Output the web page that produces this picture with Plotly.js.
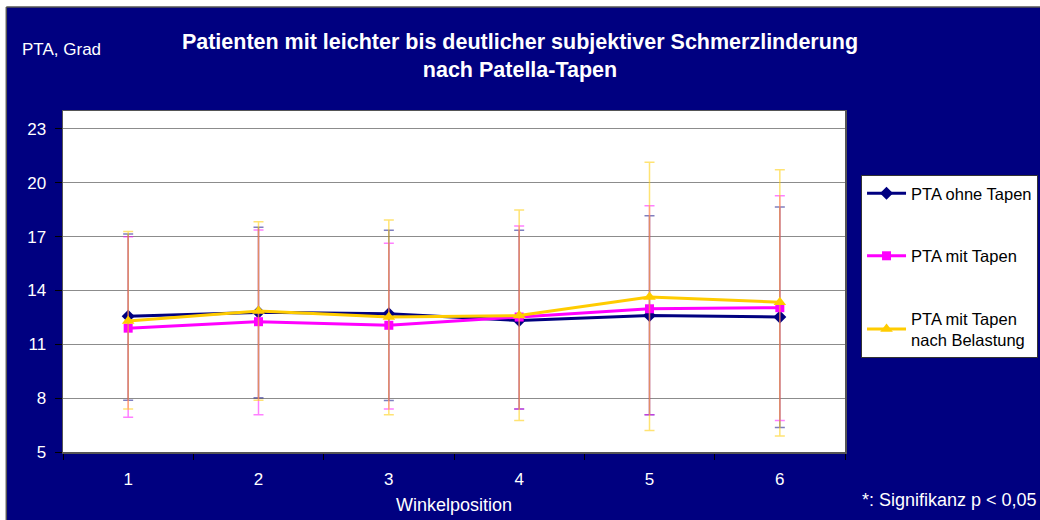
<!DOCTYPE html>
<html>
<head>
<meta charset="utf-8">
<script src="https://cdn.plot.ly/plotly-3.0.1.min.js"></script>
<style>
html,body{margin:0;padding:0;background:#000080;}
#chart{width:1040px;height:520px;}
</style>
</head>
<body>
<div id="chart"></div>
<script>
// Categories (Winkelposition)
const positions = ['1', '2', '3', '4', '5', '6'];

// PTA ohne Tapen
const ohneMean = [12.56, 12.78, 12.70, 12.33, 12.61, 12.52];
const ohneHigh = [17.15, 17.52, 17.35, 17.35, 18.17, 18.65];
const ohneLow  = [7.89, 8.02, 7.87, 7.39, 7.07, 6.37];

// PTA mit Tapen
const mitMean = [11.90, 12.26, 12.06, 12.52, 12.98, 13.04];
const mitHigh = [17.00, 17.37, 16.63, 17.59, 18.72, 19.28];
const mitLow  = [6.93, 7.07, 7.39, 7.39, 7.07, 6.76];

// PTA mit Tapen nach Belastung
const belMean = [12.30, 12.85, 12.52, 12.60, 13.63, 13.35];
const belHigh = [17.28, 17.83, 17.93, 18.48, 21.15, 20.72];
const belLow  = [7.39, 7.89, 7.07, 6.76, 6.20, 5.89];

const yTicks = [5, 8, 11, 14, 17, 20, 23];

const seriesNames = ['PTA ohne Tapen', 'PTA mit Tapen', 'PTA mit Tapen<br>nach Belastung'];

const FONT = 'Arial, "Liberation Sans", sans-serif';

function plus(h, m) { return h.map((v, i) => v - m[i]); }
function minus(l, m) { return l.map((v, i) => m[i] - v); }

function makeTrace(name, mean, hi, lo, color, errColor, symbol, size, group) {
  return {
    type: 'scatter',
    mode: 'lines+markers',
    name: name,
    legendgroup: group,
    x: positions,
    y: mean,
    line: {color: color, width: 3},
    marker: {color: color, symbol: symbol, size: size},
    error_y: {
      type: 'data', symmetric: false,
      array: plus(hi, mean), arrayminus: minus(lo, mean),
      color: errColor, thickness: 1.5, width: 5
    }
  };
}

const data = [
  makeTrace(seriesNames[0], ohneMean, ohneHigh, ohneLow, '#000080', 'rgba(0,0,128,0.5)', 'diamond', 10, 'g1'),
  makeTrace(seriesNames[1], mitMean, mitHigh, mitLow, '#FF00FF', 'rgba(255,0,255,0.5)', 'square', 9, 'g2'),
  makeTrace(seriesNames[2], belMean, belHigh, belLow, '#FFCC00', 'rgba(255,204,0,0.55)', 'triangle-up', 11, 'g3')
];

const layout = {
  width: 1040, height: 520,
  paper_bgcolor: '#000080',
  plot_bgcolor: '#FFFFFF',
  margin: {l: 63, r: 195, t: 111, b: 68, pad: 0, autoexpand: false},
  font: {family: FONT, color: '#FFFFFF', size: 16},
  title: {
    text: '<b>Patienten mit leichter bis deutlicher subjektiver Schmerzlinderung<br>nach Patella-Tapen</b>',
    font: {family: FONT, size: 21.5, color: '#FFFFFF'},
    x: 0.5, xref: 'container', xanchor: 'center',
    y: 0.905, yref: 'container', yanchor: 'top'
  },
  xaxis: {
    type: 'category',
    range: [-0.5, 5.5],
    tickson: 'boundaries',
    ticks: 'outside', ticklen: 6, tickcolor: '#000000', tickwidth: 1,
    showgrid: false, zeroline: false,
    showline: true, linecolor: '#555555', linewidth: 1.5, mirror: true,
    tickfont: {family: FONT, size: 17, color: '#FFFFFF'},
    ticklabelstandoff: 11,
    title: {text: 'Winkelposition', font: {family: FONT, size: 18, color: '#FFFFFF'}, standoff: 10}
  },
  yaxis: {
    range: [5, 24],
    tickvals: yTicks,
    ticktext: yTicks.map(String),
    ticks: 'outside', ticklen: 7, tickcolor: '#000000', tickwidth: 1,
    showgrid: true, gridcolor: '#8C8C8C', gridwidth: 1,
    zeroline: false,
    showline: true, linecolor: '#555555', linewidth: 1.5, mirror: true,
    tickfont: {family: FONT, size: 17, color: '#FFFFFF'},
    ticklabelstandoff: 5
  },
  legend: {
    x: 1.0205, xanchor: 'left', xref: 'paper',
    y: 0.812, yanchor: 'top', yref: 'paper',
    bgcolor: '#FFFFFF', bordercolor: '#333333', borderwidth: 1,
    font: {family: FONT, size: 16.5, color: '#000000'},
    traceorder: 'grouped', tracegroupgap: 38,
    itemwidth: 39,
    itemclick: false
  },
  showlegend: true,
  annotations: [
    {text: 'PTA, Grad', xref: 'paper', yref: 'paper', x: -0.0556, y: 1.18, xanchor: 'left', yanchor: 'middle',
     showarrow: false, font: {family: FONT, size: 17, color: '#FFFFFF'}},
    {text: '*: Signifikanz p &lt; 0,05', xref: 'paper', yref: 'paper', x: 1.2475, y: -0.141, xanchor: 'right', yanchor: 'middle',
     showarrow: false, font: {family: FONT, size: 18, color: '#FFFFFF'}}
  ],
  shapes: [
    // white outer strips (top and left)
    {type: 'rect', xref: 'paper', yref: 'paper', x0: -0.0806, x1: 1.25, y0: 1.3049, y1: 1.33, fillcolor: '#FFFFFF', line: {width: 0}, layer: 'above'},
    {type: 'rect', xref: 'paper', yref: 'paper', x0: -0.0806, x1: -0.0725, y0: -0.2, y1: 1.33, fillcolor: '#FFFFFF', line: {width: 0}, layer: 'above'},
    {type: 'line', xref: 'paper', yref: 'paper', x0: -0.0725, x1: 1.25, y0: 1.3049, y1: 1.3049, line: {color: '#555555', width: 1.5}},
    {type: 'line', xref: 'paper', yref: 'paper', x0: -0.0725, x1: -0.0725, y0: -0.2, y1: 1.3049, line: {color: '#555555', width: 1.5}}
  ]
};

Plotly.newPlot('chart', data, layout, {displayModeBar: false, staticPlot: true});
</script>
</body>
</html>
